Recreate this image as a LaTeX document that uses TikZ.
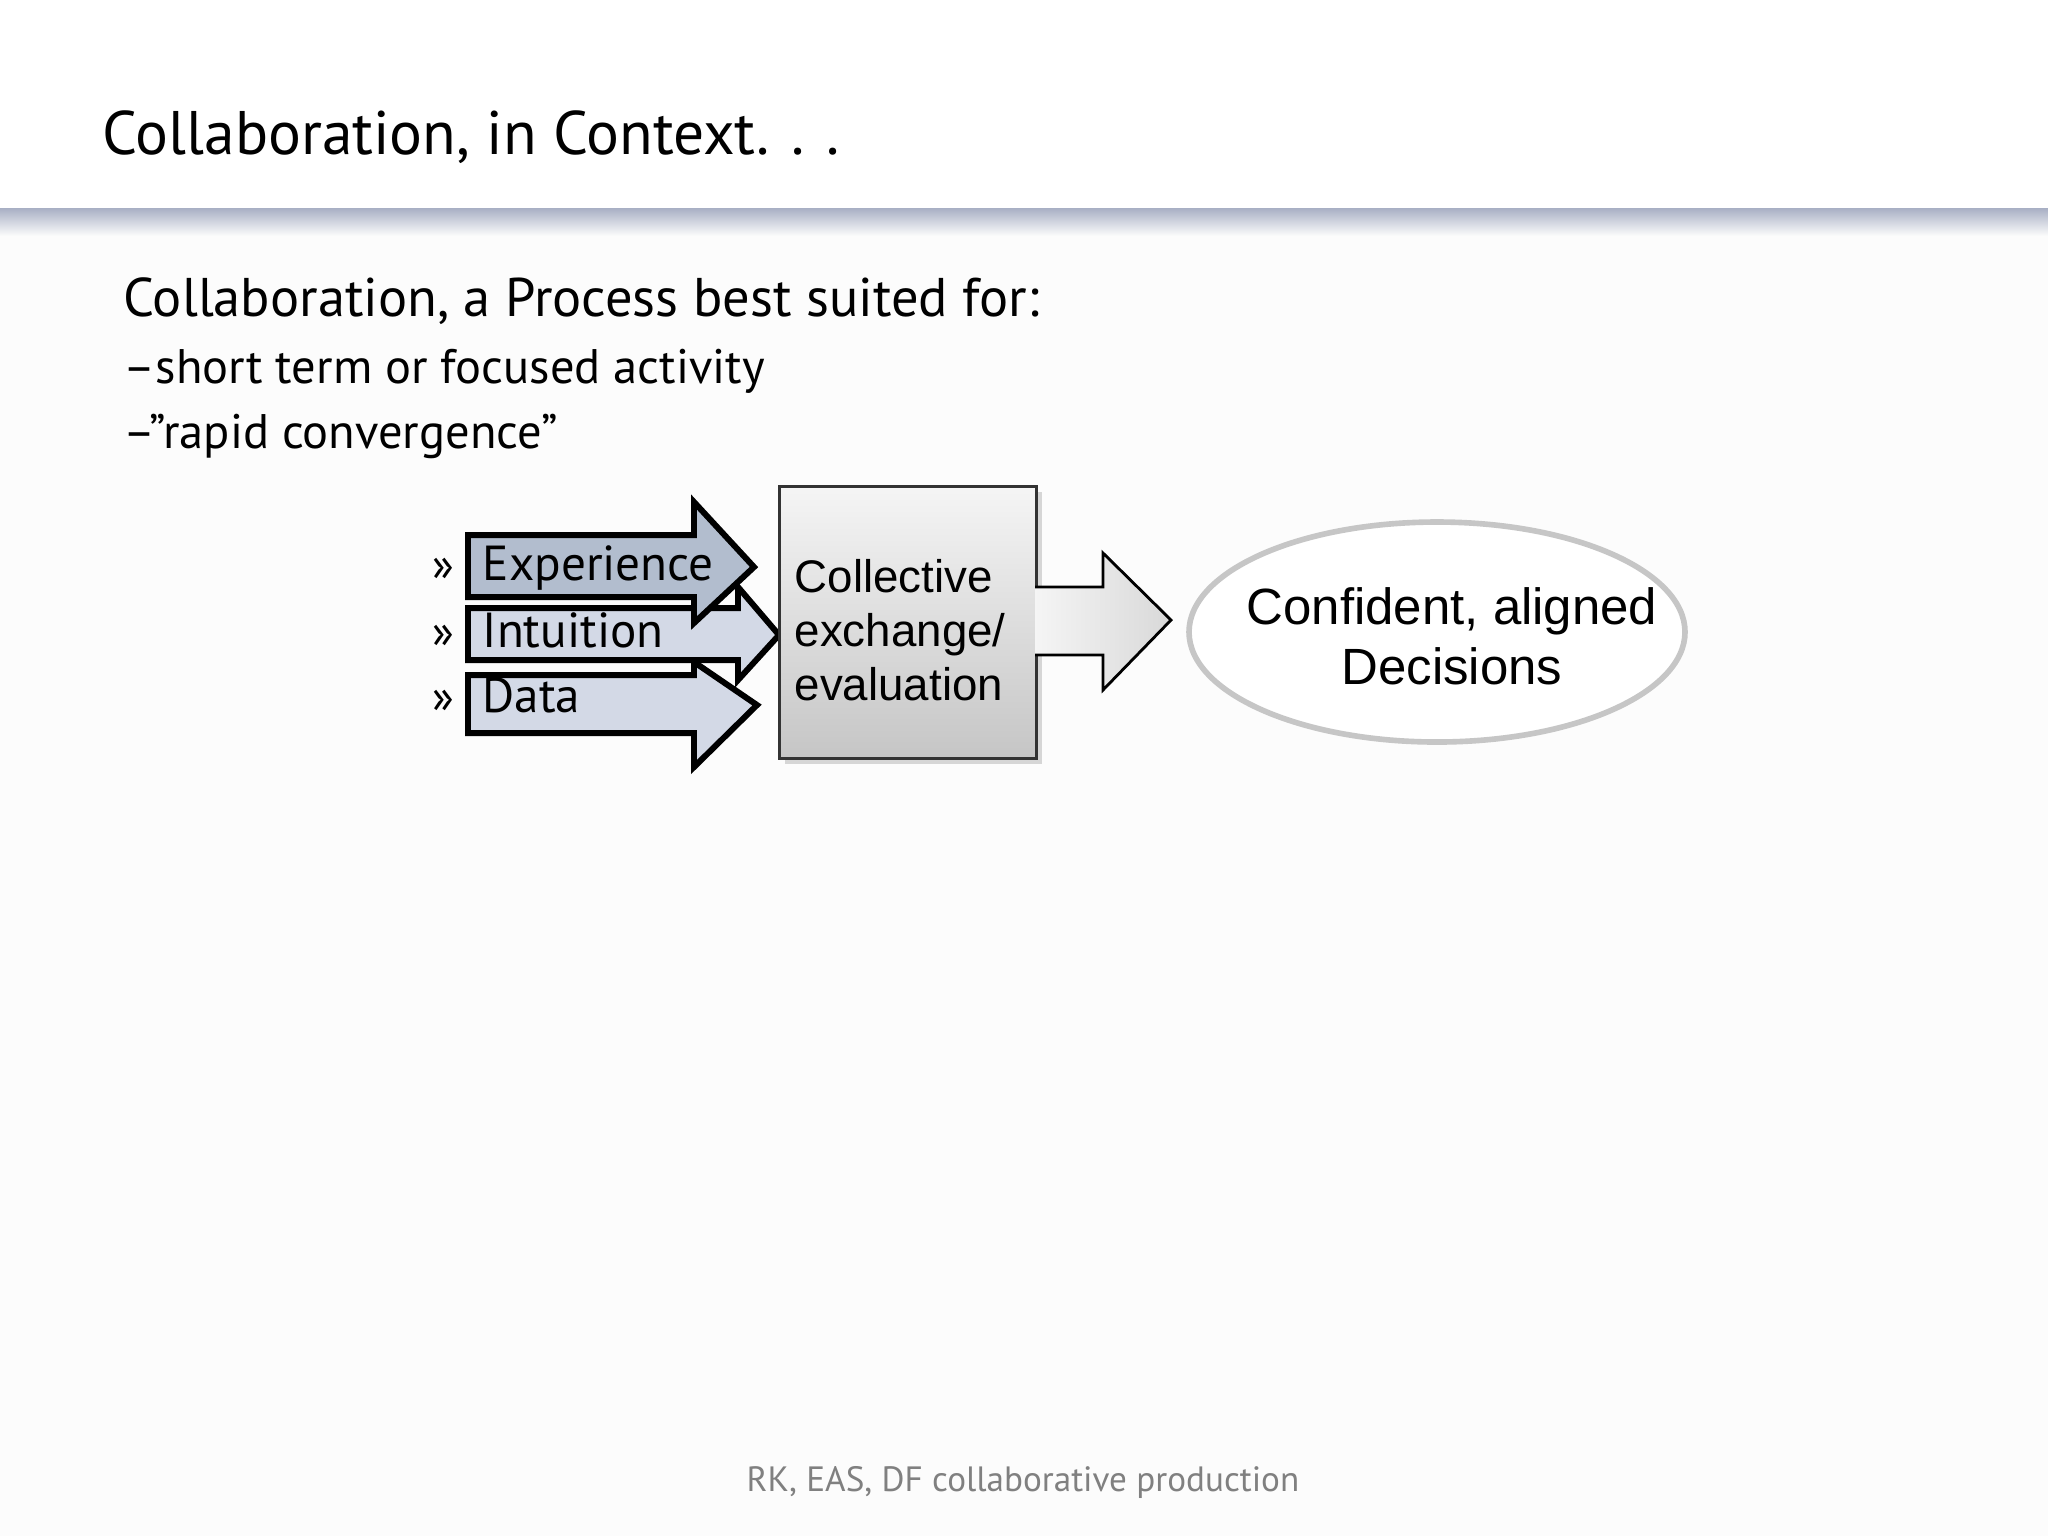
\documentclass[tikz,border=0pt]{standalone}
\usepackage{fontspec}
\setmainfont{PT Sans}
\newfontfamily\arialf{Liberation Sans}
\usetikzlibrary{shadows,shapes.geometric}
\definecolor{darkin}{RGB}{178,189,206}
\definecolor{lightin}{RGB}{211,217,230}
\definecolor{band}{RGB}{168,175,196}
\begin{document}
\begin{tikzpicture}[x=0.1mm,y=-0.1mm,
  inarrow/.style={draw=black,line width=1.7pt,line join=miter},
  lbl/.style={anchor=base west,inner sep=0,font=\fontsize{14}{16}\selectfont},
  boxt/.style={anchor=base west,inner sep=0,font=\arialf\fontsize{13}{15}\selectfont},
  ellt/.style={anchor=base,inner sep=0,font=\arialf\fontsize{14.5}{17}\selectfont}]
\useasboundingbox (0,0) rectangle (2048,1536);
\fill[white!98!gray] (0,0) rectangle (2048,1536);
\fill[white] (0,0) rectangle (2048,208);
\shade[top color=band,bottom color=white!98!gray] (0,208) rectangle (2048,236);
\node[anchor=base west,inner sep=0,font=\fontsize{17.5}{21}\selectfont] (title) at (102,154) {Collaboration, in Context. . .};
\node[anchor=base west,inner sep=0,font=\fontsize{15.5}{19}\selectfont] (sub) at (123,316) {Collaboration, a Process best suited for:};
\node[anchor=base west,inner sep=0,font=\fontsize{13.8}{17}\selectfont] (b1) at (123,383) {–short term or focused activity};
\node[anchor=base west,inner sep=0,font=\fontsize{13.8}{17}\selectfont] (b2) at (123,448) {–"rapid convergence”};
% input arrows
\filldraw[inarrow,fill=lightin] (468,675) -- (694,675) -- (694,662) -- (757,705) -- (694,767) -- (694,733) -- (468,733) -- cycle;
\filldraw[inarrow,fill=lightin] (468,608) -- (738,608) -- (738,587) -- (779,635) -- (738,680) -- (738,660) -- (468,660) -- cycle;
\filldraw[inarrow,fill=darkin] (468,535) -- (694,535) -- (694,502) -- (754,567) -- (694,623) -- (694,597) -- (468,597) -- cycle;
\node[lbl] (e) at (482,580) {Experience};
\node[lbl] (i) at (482,647) {Intuition};
\node[lbl] (d) at (482,712) {Data};
\foreach \y/\n in {580/q1,647/q2,712/q3} \node[anchor=base west,inner sep=0,font=\fontsize{13}{16}\selectfont] (\n) at (432,\y) {»};
% box
\node[draw=black!80,line width=0.8pt,top color=gray!8,bottom color=gray!45,drop shadow={opacity=0.3,shadow xshift=0.6mm,shadow yshift=-0.6mm},minimum width=257*0.1mm,minimum height=272*0.1mm,anchor=north west] (box) at (778,485) {};
\node[boxt] (bt1) at (794,592) {Collective};
\node[boxt] (bt2) at (794,646) {exchange/};
\node[boxt] (bt3) at (794,700) {evaluation};
% output arrow
\filldraw[draw=black,line width=0.8pt,left color=white!92!gray,right color=gray!30] (1035,587) -- (1103,587) -- (1103,553) -- (1171,620) -- (1103,690) -- (1103,655) -- (1035,655);
\node[ellipse,draw=gray!45,line width=1.6pt,fill=white,minimum width=496*0.1mm,minimum height=220*0.1mm] (ell) at (1437,632) {};
\node[ellt] (et1) at (1452,624) {Confident, aligned};
\node[ellt] (et2) at (1452,684) {Decisions};
\node[anchor=base,inner sep=0,text=gray,font=\fontsize{10}{12}\selectfont] (foot) at (1023,1491) {RK, EAS, DF collaborative production};
\end{tikzpicture}
\end{document}
